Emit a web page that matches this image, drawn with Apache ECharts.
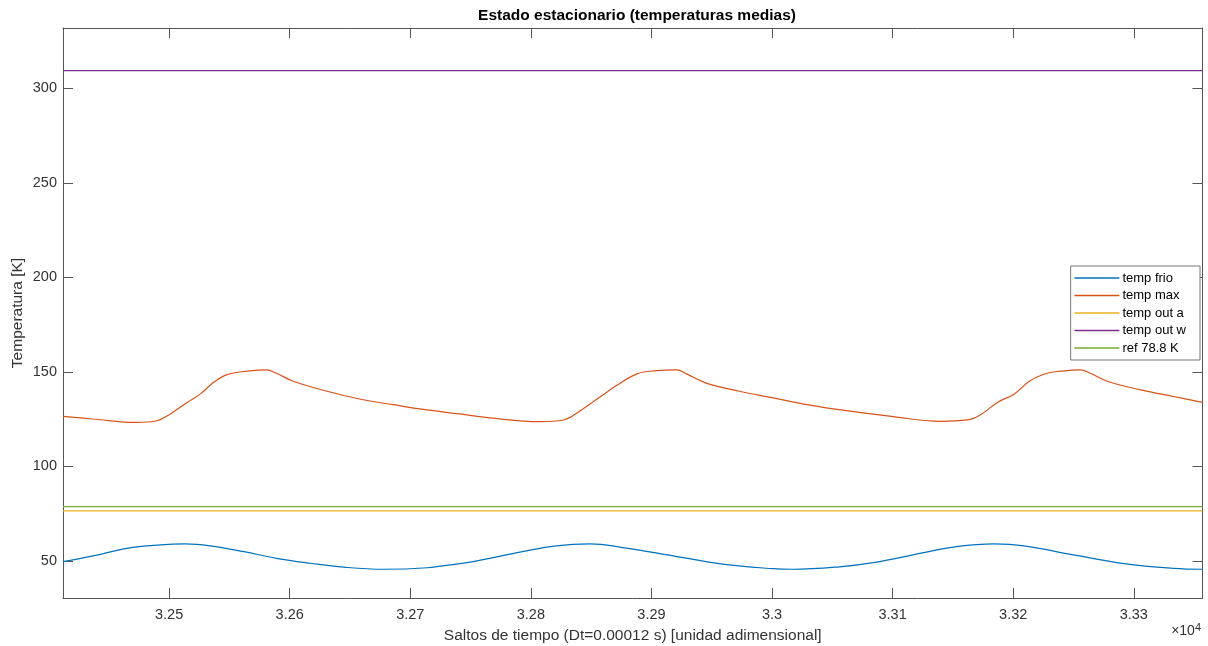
<!DOCTYPE html>
<html>
<head>
<meta charset="utf-8">
<script src="https://cdn.jsdelivr.net/npm/echarts@6/dist/echarts.min.js"></script>
<style>
html,body{margin:0;padding:0;background:#fff;}
#chart{width:1208px;height:646px;}
</style>
</head>
<body>
<div id="chart"></div>
<script>
// ---- data ----
const xMin = 32412, xMax = 33357;
const yMin = 30.4, yMax = 332;
const xTickValues = [32500, 32600, 32700, 32800, 32900, 33000, 33100, 33200, 33300];
const yTickValues = [50, 100, 150, 200, 250, 300];
const seriesNames = ['temp frio', 'temp max', 'temp out a', 'temp out w', 'ref 78.8 K'];

const tempFrioX = [32412, 32437, 32465, 32493, 32513, 32534, 32562, 32589, 32617, 32645, 32678, 32714, 32741, 32752, 32793, 32821, 32849, 32876, 32918, 32959, 33001, 33017, 33056, 33084, 33126, 33153, 33184, 33209, 33250, 33292, 33333, 33357];
const tempFrioY = [49.6, 52.7, 56.7, 58.5, 59.0, 58.0, 54.9, 51.4, 48.8, 46.7, 45.6, 46.4, 48.6, 49.6, 54.9, 58.0, 59.0, 57.1, 52.7, 48.3, 45.9, 45.6, 46.9, 49.1, 54.4, 57.6, 59.0, 58.0, 53.2, 48.6, 46.1, 45.6];

const tempMaxX = [32412, 32437, 32473, 32490, 32501, 32515, 32526, 32537, 32548, 32565, 32581, 32589, 32603, 32631, 32658, 32686, 32714, 32741, 32766, 32808, 32827, 32841, 32857, 32871, 32888, 32904, 32921, 32929, 32946, 32973, 33001, 33029, 33057, 33099, 33140, 33162, 33173, 33187, 33201, 33214, 33228, 33239, 33256, 33264, 33278, 33306, 33333, 33357];
const tempMaxY = [126.5, 125.1, 123.3, 124.2, 127.8, 133.9, 138.4, 144.5, 148.6, 150.4, 151.1, 149.3, 145.1, 139.8, 135.7, 132.7, 129.9, 127.8, 125.7, 123.7, 124.6, 129.5, 136.6, 142.8, 149.0, 150.7, 151.1, 149.0, 144.0, 139.8, 136.3, 132.7, 129.9, 126.5, 123.9, 124.6, 127.4, 133.9, 138.4, 145.4, 149.3, 150.4, 151.1, 149.3, 145.1, 140.5, 137.0, 133.9];

const tempOutA = 76.5;
const tempOutW = 309.4;
const refValue = 78.8;

const colors = ['#0072BD', '#D95319', '#EDB120', '#7E2F8E', '#77AC30'];

function zip(xs, ys) { return xs.map((x, i) => [x, ys[i]]); }
function flat(v) { return [[xMin, v], [xMax, v]]; }

const axisColor = '#555555';
const labelColor = '#333333';
const fontFam = '"Liberation Sans", Arial, Helvetica, sans-serif';

const chart = echarts.init(document.getElementById('chart'), null, {renderer: 'canvas'});

function lineSeries(name, data, color, smooth) {
  return {
    name: name, type: 'line', data: data,
    xAxisIndex: 0, yAxisIndex: 0,
    symbol: 'none', showSymbol: false,
    smooth: smooth ? 0.4 : false,
    lineStyle: {color: color, width: 1.2},
    itemStyle: {color: color},
    emphasis: {disabled: true},
    animation: false
  };
}

const option = {
  animation: false,
  backgroundColor: '#ffffff',
  textStyle: {fontFamily: fontFam},
  title: {
    text: 'Estado estacionario (temperaturas medias)',
    left: 632, top: 3, textAlign: 'center',
    textStyle: {fontFamily: fontFam, fontSize: 15.5, fontWeight: 'bold', color: '#000'}
  },
  grid: {left: 63, right: 5.5, top: 28, bottom: 48, containLabel: false, outerBoundsMode: 'none'},
  legend: {
    orient: 'vertical',
    right: 8, top: 266,
    data: seriesNames,
    itemWidth: 45, itemHeight: 10, itemGap: 3.5,
    padding: [5, 14, 5, 3],
    borderColor: '#777', borderWidth: 1, backgroundColor: '#fff',
    itemStyle: {opacity: 0},
    lineStyle: {width: 1.5},
    textStyle: {fontFamily: fontFam, fontSize: 13, lineHeight: 14, color: '#000', padding: [0, 0, 0, -2]},
    selectedMode: false
  },
  xAxis: [{
    type: 'value', position: 'bottom', min: xMin, max: xMax,
    name: 'Saltos de tiempo (Dt=0.00012 s) [unidad adimensional]',
    nameLocation: 'middle', nameGap: 30, nameMoveOverlap: false,
    nameTextStyle: {fontFamily: fontFam, fontSize: 15.5, color: labelColor},
    axisLine: {show: true, onZero: false, lineStyle: {color: axisColor, width: 1}},
    axisTick: {show: true, inside: true, length: 10, customValues: xTickValues, lineStyle: {color: axisColor}},
    axisLabel: {show: true, margin: 9, fontSize: 14.5, color: labelColor, fontFamily: fontFam,
      customValues: xTickValues,
      formatter: v => String(+(v / 10000).toFixed(2))},
    splitLine: {show: false}
  }, {
    type: 'value', position: 'top', min: xMin, max: xMax,
    axisLine: {show: true, onZero: false, lineStyle: {color: axisColor, width: 1}},
    axisTick: {show: true, inside: true, length: 10, customValues: xTickValues, lineStyle: {color: axisColor}},
    axisLabel: {show: false},
    splitLine: {show: false}
  }],
  yAxis: [{
    type: 'value', position: 'left', min: yMin, max: yMax,
    name: 'Temperatura [K]',
    nameLocation: 'middle', nameGap: 37, nameMoveOverlap: false,
    nameTextStyle: {fontFamily: fontFam, fontSize: 15.5, color: labelColor},
    axisLine: {show: true, onZero: false, lineStyle: {color: axisColor, width: 1}},
    axisTick: {show: true, inside: true, length: 10, customValues: yTickValues, lineStyle: {color: axisColor}},
    axisLabel: {show: true, margin: 6, fontSize: 14.5, color: labelColor, fontFamily: fontFam,
      customValues: yTickValues},
    splitLine: {show: false}
  }, {
    type: 'value', position: 'right', min: yMin, max: yMax,
    axisLine: {show: true, onZero: false, lineStyle: {color: axisColor, width: 1}},
    axisTick: {show: true, inside: true, length: 10, customValues: yTickValues, lineStyle: {color: axisColor}},
    axisLabel: {show: false},
    splitLine: {show: false}
  }],
  graphic: [{
    type: 'text', right: 7, top: 622,
    style: {
      text: '×10{sup|4}',
      fill: labelColor,
      font: '14px ' + fontFam,
      rich: {sup: {fontSize: 11, verticalAlign: 'top', padding: [0, 0, 8, 0], fill: labelColor, fontFamily: fontFam}}
    }
  }],
  series: [
    lineSeries(seriesNames[0], zip(tempFrioX, tempFrioY), colors[0], true),
    lineSeries(seriesNames[1], zip(tempMaxX, tempMaxY), colors[1], true),
    lineSeries(seriesNames[2], flat(tempOutA), colors[2], false),
    lineSeries(seriesNames[3], flat(tempOutW), colors[3], false),
    lineSeries(seriesNames[4], flat(refValue), colors[4], false)
  ]
};
chart.setOption(option);
</script>
</body>
</html>
